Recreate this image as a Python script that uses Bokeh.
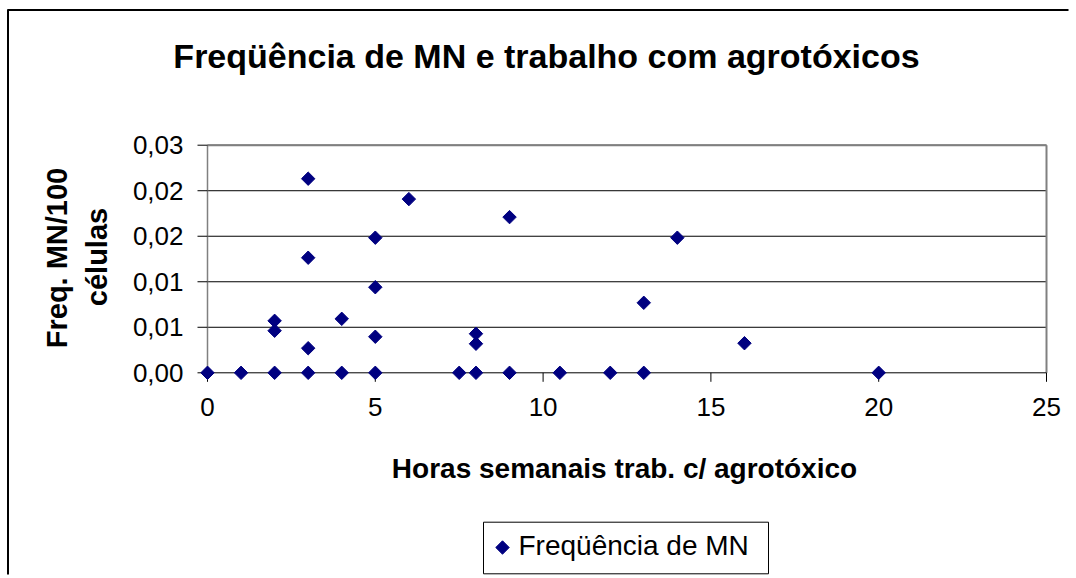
import math
from bokeh.plotting import figure
from bokeh.models import Range1d, Label
from bokeh.core.properties import value
from bokeh.embed import file_html
from bokeh.resources import INLINE

# ---- data ----
hours = [0, 1, 2, 2, 2, 3, 3, 3, 3, 4, 4, 5, 5, 5, 5, 6, 7.5, 8, 8, 8, 9, 9,
         10.5, 12, 13, 13, 14, 16, 20]
freq_mn = [0, 0, 0, 0.00571, 0.00462, 0, 0.0027, 0.01264, 0.02132, 0, 0.00593,
           0, 0.00396, 0.0094, 0.01484, 0.01908, 0, 0, 0.00319, 0.00429, 0,
           0.0171, 0, 0, 0, 0.00769, 0.01484, 0.00325, 0]
x_ticks = [0, 5, 10, 15, 20, 25]
x_tick_labels = ["0", "5", "10", "15", "20", "25"]
y_ticks = [0, 0.005, 0.01, 0.015, 0.02, 0.025]
y_tick_labels = ["0,00", "0,01", "0,01", "0,02", "0,02", "0,03"]
series_name = "Freqüência de MN"
title_text = "Freqüência de MN e trabalho com agrotóxicos"
x_label = "Horas semanais trab. c/ agrotóxico"
y_label_lines = ["Freq. MN/100", "células"]

FONT = "Arial"
NAVY = "#000080"

# ---- layout (canvas pixels) ----
W, H = 1070, 576
PL, PR, PT, PB = 207, 1046, 144.7, 372.3   # plot-area edges
x0, x1 = x_ticks[0], x_ticks[-1]
y0, y1 = y_ticks[0], y_ticks[-1]
sx = (x1 - x0) / (PR - PL)
sy = (y1 - y0) / (PB - PT)


def dx(cx):
    return x0 + (cx - PL) * sx


def dy(cy):
    return y0 + (PB - cy) * sy


p = figure(width=W, height=H, output_backend="svg", toolbar_location=None,
           x_range=Range1d(dx(0), dx(W)), y_range=Range1d(dy(H), dy(0)),
           x_axis_location=None, y_axis_location=None, min_border=0)
p.outline_line_color = None
p.background_fill_color = "white"
p.border_fill_color = "white"
p.grid.visible = False

# chart outer border (top / left)
p.segment(x0=[dx(7), dx(7.5)], x1=[dx(W - 2), dx(7.5)],
          y0=[dy(9.5), dy(9)], y1=[dy(9.5), dy(H - 2)],
          line_color="black", line_width=2)

# gridlines
p.segment(x0=[x0] * (len(y_ticks) - 1), x1=[x1] * (len(y_ticks) - 1),
          y0=y_ticks[1:], y1=y_ticks[1:], line_color="black", line_width=1)
# plot-area border (top / right)
p.segment(x0=[x0, x1], x1=[x1, x1], y0=[y1, y0], y1=[y1, y1],
          line_color="#808080", line_width=2)
# axis lines
p.segment(x0=[x0], x1=[x1], y0=[y0], y1=[y0], line_color="black", line_width=1)
p.segment(x0=[x0], x1=[x0], y0=[y0], y1=[y1], line_color="#808080", line_width=1.5)

# tick marks
p.ray(x=x_ticks, y=[y0] * len(x_ticks), length=9, length_units="screen",
      angle=-math.pi / 2, line_color="black", line_width=1)
p.ray(x=[x0] * len(y_ticks), y=y_ticks, length=10, length_units="screen",
      angle=math.pi, line_color="black", line_width=1)

# tick labels
p.text(x=x_ticks, y=[y0] * len(x_ticks), text=x_tick_labels,
       y_offset=33.7, text_align="center", text_baseline="middle",
       text_font=value(FONT), text_font_size="26px", text_color="black")
p.text(x=[x0] * len(y_ticks), y=y_ticks, text=y_tick_labels,
       x_offset=-24, text_align="right", text_baseline="middle",
       text_font=value(FONT), text_font_size="26px", text_color="black")

# data
p.scatter(hours, freq_mn, marker="square", angle=math.pi / 4, size=9.5,
          fill_color=NAVY, line_color=NAVY)

# titles
p.add_layout(Label(x=dx(546), y=dy(55.9), text=title_text, text_font=FONT,
                   text_font_size="34px", text_font_style="bold",
                   text_align="center", text_baseline="middle",
                   text_color="black"))
p.add_layout(Label(x=dx(624), y=dy(467.5), text=x_label, text_font=FONT,
                   text_font_size="28px", text_font_style="bold",
                   text_align="center", text_baseline="middle",
                   text_color="black"))
for txt, bx, cy in zip(y_label_lines, [56.5, 96.5], [257.5, 256.5]):
    p.add_layout(Label(x=dx(bx), y=dy(cy), text=txt, angle=math.pi / 2,
                       text_font=FONT, text_font_size="29px",
                       text_font_style="bold", text_align="center",
                       text_baseline="middle", text_color="black"))

# legend (box, key marker, label)
p.quad(left=[dx(483)], right=[dx(768)], top=[dy(521.7)], bottom=[dy(573.3)],
       fill_color="white", line_color="black", line_width=1)
p.scatter(x=[dx(502)], y=[dy(547)], marker="square", angle=math.pi / 4,
          size=9.5, fill_color=NAVY, line_color=NAVY)
p.text(x=[dx(518)], y=[dy(545)], text=[series_name], text_align="left",
       text_baseline="middle", text_font=value(FONT),
       text_font_size="28px", text_color="black")

open("out.html", "w").write(file_html(p, INLINE))
